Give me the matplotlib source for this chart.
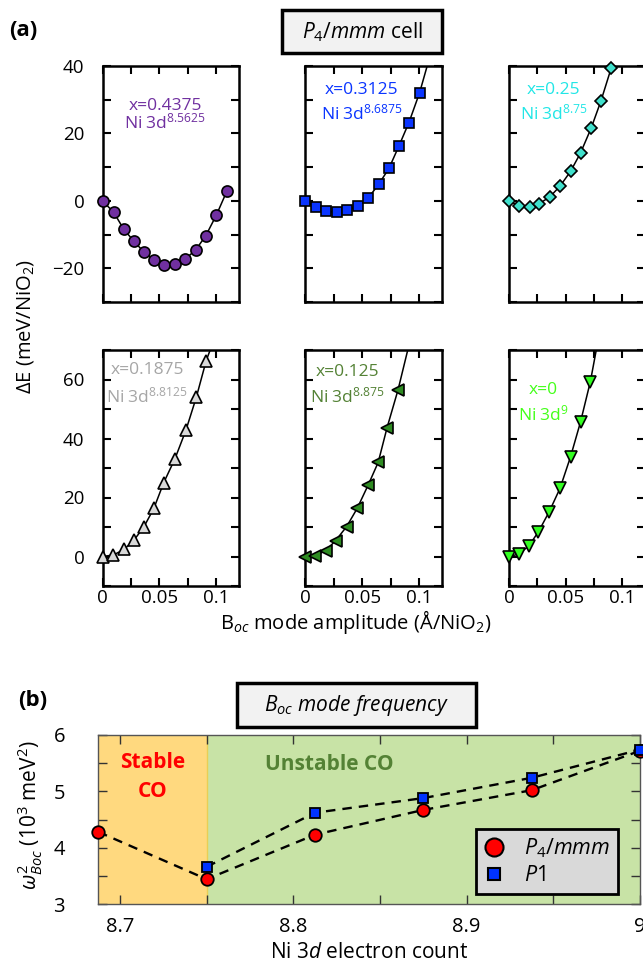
import matplotlib
matplotlib.use("Agg")
import matplotlib.pyplot as plt
from matplotlib.patches import Rectangle
from matplotlib.lines import Line2D
from matplotlib.ticker import MultipleLocator

plt.rcParams['font.family'] = ['Open Sans', 'DejaVu Sans']
plt.rcParams['mathtext.fontset'] = 'custom'
plt.rcParams['mathtext.rm'] = 'Open Sans'
plt.rcParams['mathtext.it'] = 'Open Sans:italic'
plt.rcParams['mathtext.bf'] = 'Open Sans:bold'

# ---- panel (a): energy vs mode amplitude, one curve per doping ----
doping = ['0.4375', '0.3125', '0.25', '0.1875', '0.125', '0']
d_count = ['8.5625', '8.6875', '8.75', '8.8125', '8.875', '9']

amp_4375 = [0, 0.0099, 0.0187, 0.0275, 0.0366, 0.0453, 0.054, 0.064, 0.0728, 0.0821, 0.0912, 0.1005, 0.1099]
de_4375 = [0, -3.4, -8.4, -11.9, -15.2, -17.4, -19.0, -18.8, -17.3, -14.6, -10.3, -4.2, 3.0]

amp_3125 = [0, 0.0093, 0.0183, 0.0276, 0.0369, 0.0462, 0.0555, 0.0645, 0.0735, 0.0823, 0.091, 0.1004]
de_3125 = [0, -1.8, -3.1, -3.4, -2.8, -1.5, 0.9, 4.9, 9.6, 16.3, 23.2, 32.1]

amp_25 = [0, 0.0087, 0.0181, 0.0268, 0.0361, 0.0451, 0.0544, 0.0631, 0.0724, 0.0811, 0.0902]
de_25 = [0, -1.5, -1.8, -0.8, 1.2, 4.4, 8.8, 14.2, 21.5, 29.6, 39.4]

amp_1875 = [0, 0.0096, 0.019, 0.0279, 0.0366, 0.0453, 0.054, 0.064, 0.0736, 0.0828, 0.0915]
de_1875 = [0, 0.5, 2.4, 5.6, 10.1, 16.3, 25.0, 33.2, 42.8, 54.0, 66.4]

amp_125 = [0, 0.0087, 0.0183, 0.0268, 0.0364, 0.0457, 0.0553, 0.0641, 0.0719, 0.0815]
de_125 = [0, 0.3, 2.0, 5.4, 10.1, 16.3, 24.2, 31.9, 43.7, 56.5]

amp_0 = [0, 0.0085, 0.0175, 0.026, 0.0355, 0.045, 0.0543, 0.0631, 0.0718]
de_0 = [0, 0.8, 3.6, 8.4, 15.2, 23.1, 33.8, 45.6, 59.3]

# where the fitted curve leaves the top of each panel (None = ends at last point)
fit_exit_x = [None, 0.107, 0.092, 0.095, 0.090, 0.077]

# ---- panel (b): B_oc mode frequency ----
ni_count = [8.6875, 8.75, 8.8125, 8.875, 8.9375, 9.0]
w2_p4mmm = [4.28, 3.44, 4.23, 4.67, 5.02, 5.72]
ni_count_p1 = [8.75, 8.8125, 8.875, 8.9375, 9.0]
w2_p1 = [3.66, 4.62, 4.88, 5.24, 5.74]

W, H = 643, 965
fig = plt.figure(figsize=(W / 100, H / 100), dpi=100)


def rect(x0, y0, x1, y1):
    # pixel box (top-left origin) -> figure fraction
    return [x0 / W, 1 - y1 / H, (x1 - x0) / W, (y1 - y0) / H]


amps = [amp_4375, amp_3125, amp_25, amp_1875, amp_125, amp_0]
des = [de_4375, de_3125, de_25, de_1875, de_125, de_0]
markers = ['o', 's', 'D', '^', '<', 'v']
msizes = [8, 7.5, 6, 8, 8, 8]
face_cols = ['#7030A0', '#0A35FF', '#40E0CC', '#D9D9D9', '#2E8B22', '#33FF22']
text_cols = ['#7030A0', '#0A35FF', '#22E6E6', '#A6A6A6', '#548235', '#44FF1A']
txt_pos = [(0.46, 0.83, 0.76), (0.414, 0.898, 0.80), (0.33, 0.898, 0.80),
           (0.33, 0.915, 0.805), (0.31, 0.908, 0.805), (0.25, 0.83, 0.728)]

col_x = [(102.5, 238.5), (305, 442), (509, 645)]
row_y = [(66, 302), (350, 586)]

for i in range(6):
    r, c = divmod(i, 3)
    ax = fig.add_axes(rect(col_x[c][0], row_y[r][0], col_x[c][1], row_y[r][1]))
    ax.set_xlim(0, 0.12)
    if r == 0:
        ax.set_ylim(-30, 40)
    else:
        ax.set_ylim(-10, 70)
    ax.yaxis.set_major_locator(MultipleLocator(20))
    ax.yaxis.set_minor_locator(MultipleLocator(10))
    ax.xaxis.set_major_locator(MultipleLocator(0.05))
    ax.xaxis.set_minor_locator(MultipleLocator(0.025))
    ax.tick_params(which='both', direction='in', top=True, right=True,
                   length=6, width=1.5, labelsize=13.5)
    ax.tick_params(axis='y', pad=13)
    ax.tick_params(axis='x', pad=2)
    ax.xaxis.set_major_formatter(plt.FuncFormatter(lambda v, p: f"{v:g}"))
    if c != 0:
        ax.set_yticklabels([])
    if r == 0:
        ax.set_xticklabels([])
    for s in ax.spines.values():
        s.set_linewidth(1.8)

    xs = list(amps[i])
    ys = list(des[i])
    if fit_exit_x[i] is not None:
        xs = xs + [fit_exit_x[i]]
        ys = ys + [ax.get_ylim()[1]]
    ax.plot(xs, ys, color='black', lw=1.1, zorder=2)
    ax.plot(amps[i], des[i], ls='none', marker=markers[i], ms=msizes[i],
            mfc=face_cols[i], mec='black', mew=1.2, clip_on=False, zorder=3)

    tx, ty1, ty2 = txt_pos[i]
    ax.text(tx, ty1, f"x={doping[i]}", transform=ax.transAxes, ha='center', va='center',
            fontsize=12.5, color=text_cols[i])
    ax.text(tx, ty2, f"Ni 3d$^{{{d_count[i]}}}$", transform=ax.transAxes, ha='center',
            va='center', fontsize=12.5, color=text_cols[i])

# labels for panel (a)
fig.text(23 / W, 1 - 30 / H, "(a)", fontsize=16, fontweight='bold', ha='center', va='center')
fig.patches.append(Rectangle((282 / W, 1 - 53 / H), 160 / W, 43 / H, transform=fig.transFigure,
                             facecolor='#F2F2F2', edgecolor='black', lw=2.5, zorder=5))
fig.text(362 / W, 1 - 32 / H, r"$P_4/mmm$ cell", fontsize=15, ha='center', va='center', zorder=6)
fig.text(25 / W, 1 - 326 / H, "ΔE (meV/NiO$_2$)", fontsize=14.5, rotation=90,
         ha='center', va='center')
fig.text(356 / W, 1 - 622 / H, "B$_{oc}$ mode amplitude (Å/NiO$_2$)", fontsize=14.5,
         ha='center', va='center')

# ---- panel (b) ----
axb = fig.add_axes(rect(98.3, 735, 640, 904))
axb.set_xlim(8.6875, 9.0)
axb.set_ylim(3, 6)
axb.axvspan(8.6875, 8.75, color='#FFD97F', zorder=0, lw=0)
axb.axvspan(8.75, 9.0, color='#C8E3A6', zorder=0, lw=0)
axb.axvline(8.75, color='#E8CF55', lw=1, zorder=0.5)
axb.xaxis.set_major_locator(MultipleLocator(0.1))
axb.xaxis.set_minor_locator(MultipleLocator(0.05))
axb.yaxis.set_major_locator(MultipleLocator(1))
axb.yaxis.set_minor_locator(MultipleLocator(0.5))
axb.xaxis.set_major_formatter(plt.FuncFormatter(lambda v, p: f"{v:g}"))
axb.tick_params(which='both', direction='in', top=True, right=True, length=6.5,
                width=1.0, color='#333333', labelsize=14.5)
axb.tick_params(axis='y', pad=24)
axb.tick_params(axis='x', pad=9)
for s in axb.spines.values():
    s.set_linewidth(1.0)
    s.set_color('#555555')

axb.plot(ni_count, w2_p4mmm, color='black', lw=1.7, dashes=(4, 3), zorder=2)
axb.plot(ni_count_p1, w2_p1, color='black', lw=1.7, dashes=(4, 3), zorder=2)
axb.plot(ni_count, w2_p4mmm, ls='none', marker='o', ms=9, mfc='#FF0000', mec='black',
         mew=1.3, clip_on=False, zorder=3)
axb.plot(ni_count_p1, w2_p1, ls='none', marker='s', ms=7.5, mfc='#0033FF', mec='black',
         mew=1.3, clip_on=False, zorder=4)

axb.text(8.719, 5.52, "Stable", color='#FF0000', fontsize=15, fontweight='bold',
         ha='center', va='center')
axb.text(8.719, 4.99, "CO", color='#FF0000', fontsize=15, fontweight='bold',
         ha='center', va='center')
axb.text(8.821, 5.48, "Unstable CO", color='#548235', fontsize=15, fontweight='bold',
         ha='center', va='center')

handles = [Line2D([], [], ls='none', marker='o', ms=13, mfc='#FF0000', mec='black', mew=1.5),
           Line2D([], [], ls='none', marker='s', ms=8.5, mfc='#0033FF', mec='black', mew=1.5)]
leg = axb.legend(handles, [r"$P_4/mmm$", r"$P1$"], loc='lower left',
                 bbox_to_anchor=(0.697, 0.059), borderaxespad=0, fontsize=15.5,
                 frameon=True, fancybox=False, handletextpad=0.9, borderpad=0.35,
                 labelspacing=0.25, handlelength=1.0)
leg.get_frame().set_facecolor('#D9D9D9')
leg.get_frame().set_edgecolor('black')
leg.get_frame().set_linewidth(2)
leg.get_frame().set_alpha(1)

fig.text(369 / W, 1 - 953 / H, "Ni $3d$ electron count", fontsize=15, ha='center', va='center')
fig.text(30 / W, 1 - 815 / H, r"$\omega^2_{Boc}$ (10$^3$ meV$^2$)", fontsize=15,
         rotation=90, ha='center', va='center')
fig.text(33 / W, 1 - 700 / H, "(b)", fontsize=16, fontweight='bold', ha='center', va='center')
fig.patches.append(Rectangle((237 / W, 1 - 727 / H), 239 / W, 44 / H, transform=fig.transFigure,
                             facecolor='#F2F2F2', edgecolor='black', lw=2.5, zorder=5))
fig.text(356 / W, 1 - 705 / H, r"$B_{oc}$ mode frequency", fontsize=15, style='italic',
         ha='center', va='center', zorder=6)

fig.savefig("out.png", dpi=100)
